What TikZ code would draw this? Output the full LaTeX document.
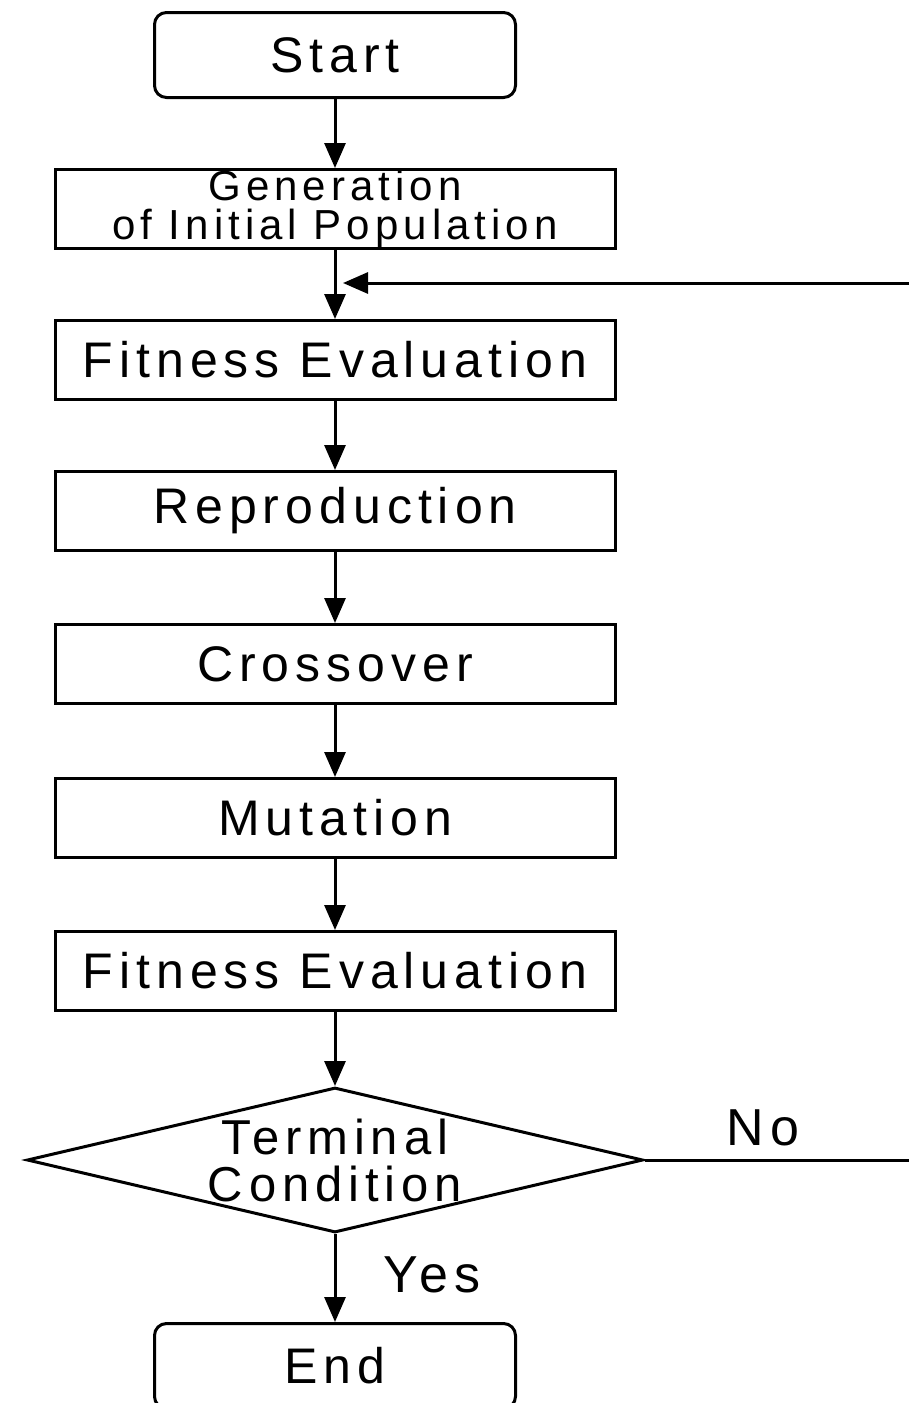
\documentclass[tikz,border=0pt]{standalone}
\usepackage{fontspec}
\setmainfont{Liberation Sans}
\newfontfamily\flowfont[LetterSpace=12]{Liberation Sans}
\usetikzlibrary{arrows.meta,shapes.geometric}
\tikzset{
  proc/.style={draw, line width=1.5pt, minimum width=280pt, minimum height=39.5pt,
    inner sep=0pt, font=\flowfont\fontsize{25}{29}\selectfont},
  term/.style={proc, rounded corners=6pt, minimum width=180.5pt, minimum height=42.5pt},
  decision/.style={diamond, draw, line width=1.5pt, minimum width=308pt,
    minimum height=72.5pt, inner sep=0pt},
  flow/.style={line width=1.5pt, -{Triangle[length=12.5pt,width=10.5pt]}},
  flowlabel/.style={font=\flowfont\fontsize{26}{30}\selectfont},
}
\begin{document}
\begin{tikzpicture}[x=0.5pt, y=-0.5pt]
    \useasboundingbox (0,0) rectangle (909,1403);

    % Bloques del algoritmo
    \node[term] (start) at (335,55) {Start};
    \node[proc, align=center, font=\flowfont\fontsize{21}{19.5}\selectfont] (init) at (335,209)
      {Generation\\of Initial Population};
    \node[proc] (fit1) at (335,360) {Fitness Evaluation};
    \node[proc] (repro) at (335,511) {Reproduction};
    \node[proc] (cross) at (335,664) {Crossover};
    \node[proc] (mut) at (335,818) {Mutation};
    \node[proc] (fit2) at (335,971) {Fitness Evaluation};

    % Condicion de parada
    \node[decision] (cond) at (335,1160) {};
    \node[align=center, font=\flowfont\fontsize{24.5}{23.5}\selectfont] (condtext) at (cond)
      {Terminal\\Condition};

    \node[term] (end) at (335,1366) {End};

    % Flechas principales
    \draw[flow] (start) -- (init);
    \draw[flow] (init) -- (fit1);
    \draw[flow] (fit1) -- (repro);
    \draw[flow] (repro) -- (cross);
    \draw[flow] (cross) -- (mut);
    \draw[flow] (mut) -- (fit2);
    \draw[flow] (fit2) -- (cond);
    \draw[flow] (cond) -- (end);
    \node[flowlabel] (yes) at (432,1275) {Yes};

    % Lazo de retorno (No)
    \coordinate (noend) at (909,1160);
    \coordinate (back) at (909,283);
    \coordinate (join) at (init.south |- back);
    \draw[line width=1.5pt] (cond.east) -- (noend);
    \node[flowlabel] (no) at (763,1128) {No};
    \draw[flow] (back) -- ([xshift=4pt]join);
\end{tikzpicture}
\end{document}
